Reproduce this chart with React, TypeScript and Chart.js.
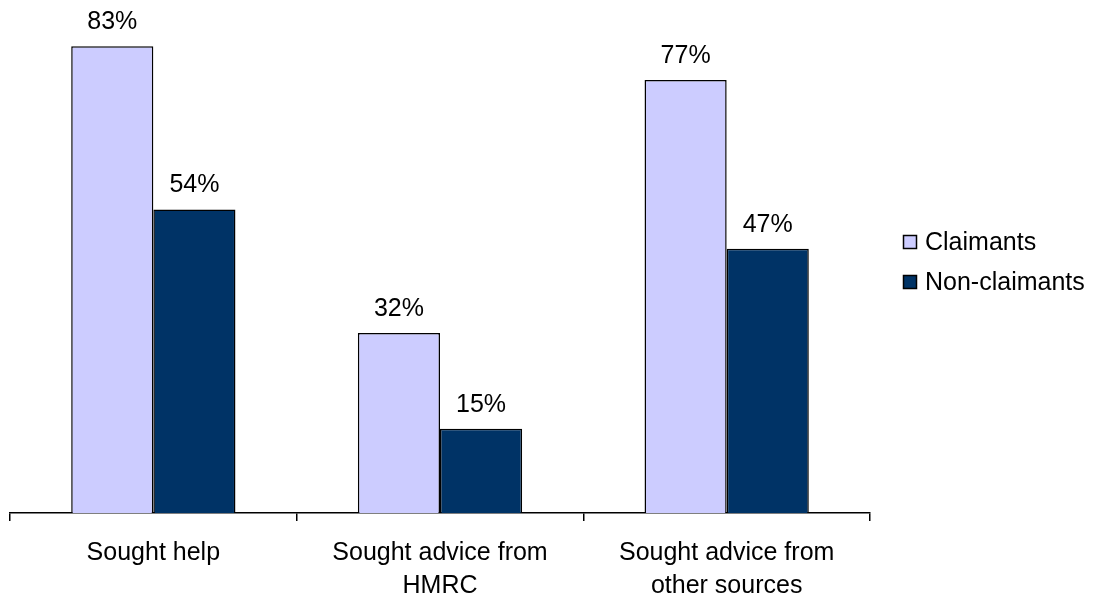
import React, { useEffect, useRef } from "react";
import { Chart, registerables } from "chart.js";

Chart.register(...registerables);

const categories: string[][] = [
  ["Sought help"],
  ["Sought advice from", "HMRC"],
  ["Sought advice from", "other sources"],
];
const claimants: number[] = [83, 32, 77];
const nonClaimants: number[] = [54, 15, 47];
const seriesNames: string[] = ["Claimants", "Non-claimants"];
const seriesColors: string[] = ["#CCCCFF", "#003366"];

const FONT = "'Liberation Sans', Arial, sans-serif";
const FONT_SIZE = 25;

// Percentage labels above each bar
const valueLabels = {
  id: "valueLabels",
  afterDatasetsDraw(chart: any) {
    const ctx = chart.ctx;
    ctx.save();
    ctx.font = `${FONT_SIZE}px ${FONT}`;
    ctx.fillStyle = "#000";
    ctx.textAlign = "center";
    ctx.textBaseline = "alphabetic";
    chart.data.datasets.forEach((ds: any, i: number) => {
      const meta = chart.getDatasetMeta(i);
      meta.data.forEach((bar: any, j: number) => {
        ctx.fillText(`${ds.data[j]}%`, bar.x, bar.y - 17);
      });
    });
    ctx.restore();
  },
};

// Legend on the right with square swatches
const sideLegend = {
  id: "sideLegend",
  afterDraw(chart: any) {
    const ctx = chart.ctx;
    ctx.save();
    ctx.font = `${FONT_SIZE}px ${FONT}`;
    ctx.textBaseline = "middle";
    ctx.textAlign = "left";
    const x = 903;
    const y0 = 242;
    const step = 40;
    chart.data.datasets.forEach((ds: any, i: number) => {
      const cy = y0 + i * step;
      ctx.fillStyle = ds.backgroundColor;
      ctx.fillRect(x, cy - 7, 14, 14);
      ctx.strokeStyle = "#000";
      ctx.lineWidth = 1.5;
      ctx.strokeRect(x + 0.5, cy - 6.5, 13, 13);
      ctx.fillStyle = "#000";
      ctx.fillText(ds.label, x + 22, cy + 1);
    });
    ctx.restore();
  },
};

export default function App() {
  const canvasRef = useRef<HTMLCanvasElement | null>(null);

  useEffect(() => {
    if (!canvasRef.current) return;
    const chart = new Chart(canvasRef.current, {
      type: "bar",
      data: {
        labels: categories,
        datasets: [
          {
            label: seriesNames[0],
            data: claimants,
            backgroundColor: seriesColors[0],
            borderColor: "#000",
            borderWidth: 1.5,
          },
          {
            label: seriesNames[1],
            data: nonClaimants,
            backgroundColor: seriesColors[1],
            borderColor: "#000",
            borderWidth: 1.5,
          },
        ],
      },
      options: {
        animation: false,
        responsive: false,
        maintainAspectRatio: false,
        layout: { padding: { left: 10, right: 224, top: 7, bottom: 0 } },
        datasets: {
          bar: { barPercentage: 1, categoryPercentage: 0.573 },
        },
        plugins: {
          legend: { display: false },
          tooltip: { enabled: false },
        },
        scales: {
          x: {
            grid: {
              display: true,
              drawOnChartArea: false,
              drawTicks: true,
              tickLength: 8,
              color: "#000",
              lineWidth: 1.5,
              offset: true,
            },
            border: { display: true, color: "#000", width: 1.5 },
            ticks: {
              color: "#000",
              padding: 16,
              font: { family: FONT, size: FONT_SIZE, lineHeight: 1.3 },
              maxRotation: 0,
              autoSkip: false,
            },
            afterFit: (scale: any) => {
              scale.height = 86;
            },
          },
          y: {
            display: false,
            min: 0,
            max: 90,
          },
        },
      },
      plugins: [valueLabels, sideLegend],
    });
    return () => chart.destroy();
  }, []);

  return (
    <div style={{ position: "fixed", left: 0, top: 0, width: 1094, height: 599, background: "#fff" }}>
      <canvas ref={canvasRef} width={1094} height={599} style={{ width: 1094, height: 599, display: "block" }} />
    </div>
  );
}
